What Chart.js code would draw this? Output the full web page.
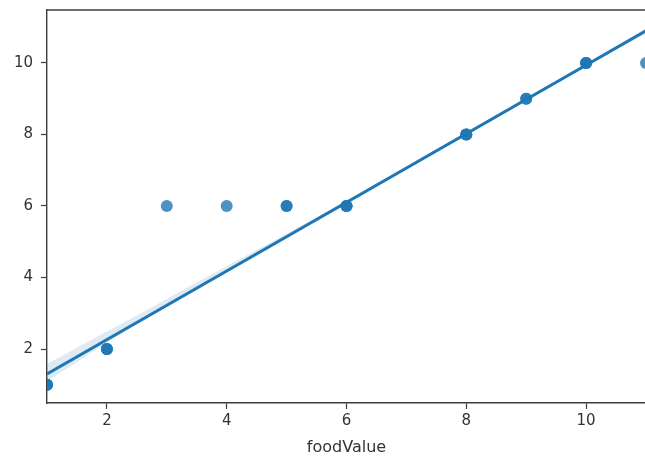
<!DOCTYPE html>
<html>
<head>
<meta charset="utf-8">
<script src="https://cdn.jsdelivr.net/npm/chart.js@4/dist/chart.umd.min.js"></script>
<style>
  html, body { margin: 0; padding: 0; background: #fff; overflow: hidden; }
  #wrap { width: 645px; height: 461px; overflow: hidden; position: relative; }
  #c { position: absolute; left: 0; top: 0; }
</style>
</head>
<body>
<div id="wrap"><canvas id="c" width="652" height="461"></canvas></div>
<script>
// ---- data ----
const foodValue   = [1, 1, 1, 2, 2, 2, 3, 4, 5, 5, 6, 6, 6, 8, 8, 8, 9, 9, 10, 10, 10, 11];
const targetValue = [1, 1, 1, 2, 2, 2, 6, 6, 6, 6, 6, 6, 6, 8, 8, 8, 9, 9, 10, 10, 10, 10];
// regression line & confidence band
const fitX     = [1, 11];
const fitY     = [1.3, 10.9];
const bandX    = [1, 3, 6, 9, 11];
const bandUpper= [1.58, 3.4, 6.15, 9.0, 10.98];
const bandLower= [1.1, 3.22, 6.06, 8.95, 10.83];
const xTicks = [2, 4, 6, 8, 10];
const yTicks = [2, 4, 6, 8, 10];

const blue = '#1f77b4';
const pts = (xs, ys) => xs.map((x, i) => ({x, y: ys[i]}));

const frame = {
  id: 'frame',
  afterDatasetsDraw(chart) {
    const {ctx, chartArea} = chart;
    ctx.save();
    ctx.strokeStyle = '#3c3c3c';
    ctx.lineWidth = 1.4;
    ctx.beginPath();
    ctx.moveTo(chartArea.left, chartArea.top);
    ctx.lineTo(chartArea.right, chartArea.top);
    ctx.stroke();
    ctx.restore();
  }
};

new Chart(document.getElementById('c'), {
  type: 'scatter',
  data: {
    datasets: [
      {
        type: 'line',
        data: pts(bandX, bandUpper),
        borderWidth: 0,
        pointRadius: 0,
        fill: false,
        tension: 0.4
      },
      {
        type: 'line',
        data: pts(bandX, bandLower),
        borderWidth: 0,
        pointRadius: 0,
        backgroundColor: 'rgba(31,119,180,0.15)',
        fill: '-1',
        tension: 0.4
      },
      {
        data: pts(foodValue, targetValue),
        backgroundColor: 'rgba(31,119,180,0.8)',
        borderWidth: 0,
        pointRadius: 6,
        pointHoverRadius: 6
      },
      {
        type: 'line',
        data: pts(fitX, fitY),
        borderColor: blue,
        borderWidth: 3,
        pointRadius: 0,
        fill: false
      }
    ]
  },
  options: {
    responsive: false,
    animation: false,
    events: [],
    plugins: { legend: { display: false }, tooltip: { enabled: false } },
    layout: { padding: { left: 0, top: 10, right: 2, bottom: 0 } },
    scales: {
      x: {
        type: 'linear',
        min: 1, max: 11,
        afterBuildTicks: s => { s.ticks = xTicks.map(v => ({value: v})); },
        afterFit: s => { s.height = 58; s.paddingLeft = 0; s.paddingRight = 0; },
        border: { display: true, color: '#3c3c3c', width: 1.4 },
        grid: { display: true, drawOnChartArea: false, drawTicks: true, tickLength: 6, tickColor: '#3c3c3c', tickWidth: 1.2 },
        ticks: { color: '#333333', padding: 3, font: { family: 'DejaVu Sans', size: 15 }, maxRotation: 0 },
        title: { display: true, text: 'foodValue', color: '#333333', padding: { top: 3, bottom: 3.4 }, font: { family: 'DejaVu Sans', size: 16 } }
      },
      y: {
        type: 'linear',
        min: 0.49, max: 11.48,
        afterBuildTicks: s => { s.ticks = yTicks.map(v => ({value: v})); },
        afterFit: s => { s.width = 47; s.paddingTop = 0; s.paddingBottom = 0; },
        border: { display: true, color: '#3c3c3c', width: 1.4 },
        grid: { display: true, drawOnChartArea: false, drawTicks: true, tickLength: 6, tickColor: '#3c3c3c', tickWidth: 1.2 },
        ticks: { color: '#333333', padding: 8, font: { family: 'DejaVu Sans', size: 15 } }
      }
    }
  },
  plugins: [frame]
});
</script>
</body>
</html>
